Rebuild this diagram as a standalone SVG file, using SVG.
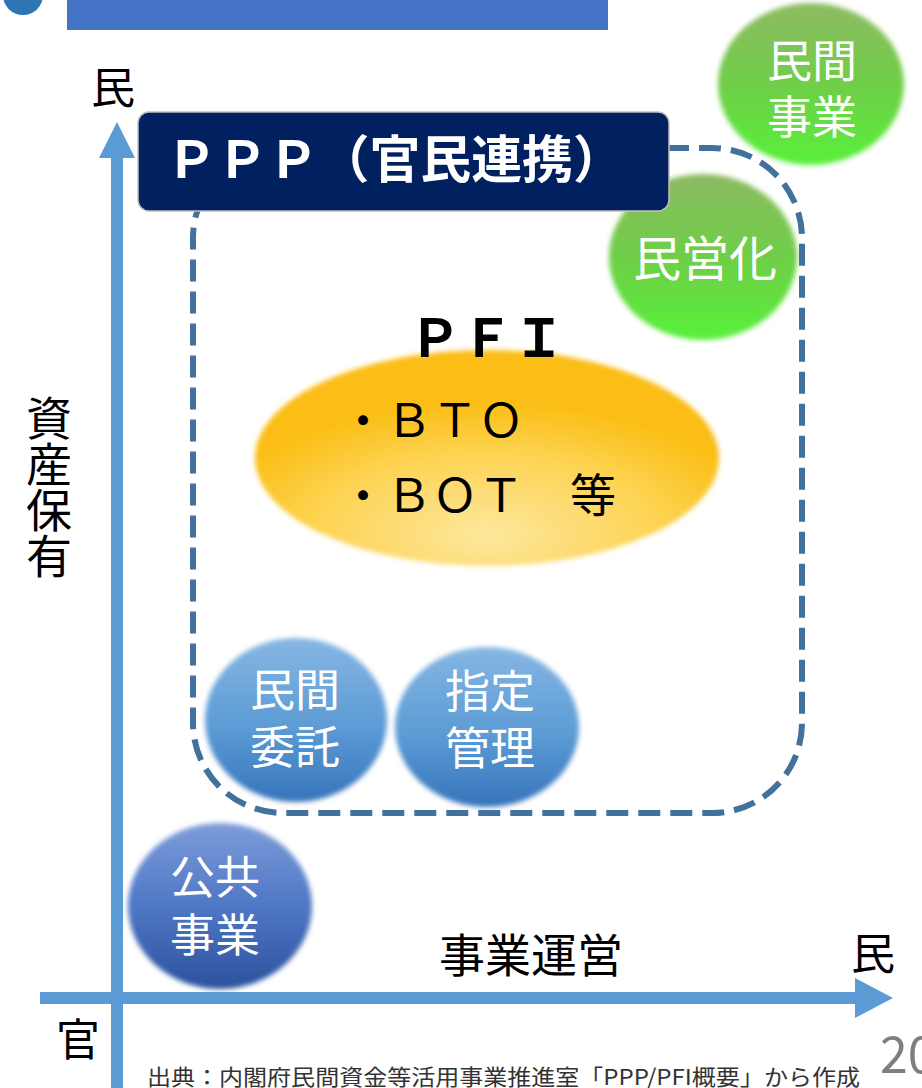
<svg xmlns="http://www.w3.org/2000/svg" width="922" height="1088" viewBox="0 0 922 1088">
<defs>
<style>
.jp{font-family:"Noto Sans CJK JP","Noto Sans",sans-serif;}
.wt{fill:#ffffff;font-size:45px;text-anchor:middle;}
.bk{fill:#000000;}
.axis{fill:#5b9bd5;}
</style>
<filter id="soft" x="-10%" y="-10%" width="120%" height="120%"><feGaussianBlur stdDeviation="2.5"/></filter>
<linearGradient id="gGreen" x1="0" y1="0" x2="0" y2="1">
<stop offset="0" stop-color="#8dbb62"/><stop offset="0.5" stop-color="#6fce48"/><stop offset="1" stop-color="#58f03a"/>
</linearGradient>
<linearGradient id="gBlue" x1="0" y1="0" x2="0" y2="1">
<stop offset="0" stop-color="#86b6e3"/><stop offset="0.55" stop-color="#5b9bd5"/><stop offset="1" stop-color="#3674bb"/>
</linearGradient>
<linearGradient id="gIndigo" x1="0" y1="0" x2="0" y2="1">
<stop offset="0" stop-color="#7d9cd9"/><stop offset="0.5" stop-color="#4f77c6"/><stop offset="1" stop-color="#2c529c"/>
</linearGradient>
<radialGradient id="gYellow" cx="0.5" cy="0.85" r="0.62">
<stop offset="0" stop-color="#fde79e"/><stop offset="0.6" stop-color="#fdd351"/><stop offset="1" stop-color="#fbbd12"/>
</radialGradient>
</defs>

<rect width="922" height="1088" fill="#ffffff"/>

<g id="header">
<circle cx="23" cy="-5" r="20" fill="#2e75b6"/>
<rect x="67" y="0" width="541" height="30" fill="#4472c4"/>
</g>

<g id="minkan-jigyo">
<ellipse cx="811" cy="84" rx="93" ry="81" fill="url(#gGreen)" filter="url(#soft)"/>
<text class="jp wt"><tspan x="812" y="78">民間</tspan><tspan x="812" y="134">事業</tspan></text>
</g>

<g id="mineika">
<ellipse cx="703" cy="257" rx="94" ry="83" fill="url(#gGreen)" filter="url(#soft)"/>
<text class="jp wt" x="705" y="276" style="font-size:48px">民営化</text>
</g>

<g id="pfi">
<ellipse cx="487" cy="458" rx="232" ry="108" fill="url(#gYellow)" filter="url(#soft)"/>
<text class="jp bk" x="487" y="357" text-anchor="middle" font-size="52" font-weight="bold">ＰＦＩ</text>
<text class="jp bk" x="340" y="437" font-size="46">・ＢＴＯ</text>
<text class="jp bk" x="340" y="512" font-size="46">・ＢＯＴ　等</text>
</g>

<g id="minkan-itaku">
<ellipse cx="296" cy="720" rx="91" ry="82" fill="url(#gBlue)" filter="url(#soft)"/>
<text class="jp wt"><tspan x="295" y="707">民間</tspan><tspan x="295" y="764">委託</tspan></text>
</g>

<g id="shitei-kanri">
<ellipse cx="487" cy="727" rx="92" ry="80" fill="url(#gBlue)" filter="url(#soft)"/>
<text class="jp wt"><tspan x="490" y="708">指定</tspan><tspan x="490" y="765">管理</tspan></text>
</g>

<g id="kokyo-jigyo">
<ellipse cx="220" cy="906" rx="92" ry="83" fill="url(#gIndigo)" filter="url(#soft)"/>
<text class="jp wt"><tspan x="215" y="894">公共</tspan><tspan x="215" y="952">事業</tspan></text>
</g>

<g id="ppp-region">
<rect x="193" y="148" width="609" height="665" rx="90" ry="90" fill="none" stroke="#41719c" stroke-width="6" stroke-dasharray="22 10"/>
</g>

<g id="ppp-label">
<rect x="138" y="112" width="531" height="99" rx="11" ry="11" fill="#002060" stroke="#bfbfbf" stroke-width="1.5"/>
<text class="jp" x="166" y="178" fill="#ffffff" font-size="51" font-weight="bold" textLength="458" lengthAdjust="spacing">ＰＰＰ（官民連携）</text>
</g>

<g id="connectors">
<rect class="axis" x="111" y="157" width="12" height="931"/>
<polygon class="axis" points="117,122 135,158 99,158"/>
<rect class="axis" x="40" y="992" width="816" height="12"/>
<polygon class="axis" points="893,998 855,978 855,1018"/>
</g>

<g id="axis-labels">
<text class="jp bk" x="113" y="104" text-anchor="middle" font-size="44">民</text>
<text class="jp bk" x="873" y="970" text-anchor="middle" font-size="44">民</text>
<text class="jp bk" x="78" y="1056" text-anchor="middle" font-size="44">官</text>
<text class="jp bk" x="531" y="972" text-anchor="middle" font-size="46">事業運営</text>
<text class="jp bk" x="49" y="395" font-size="46" writing-mode="vertical-rl">資産保有</text>
</g>

<g id="footer">
<text class="jp" x="147" y="1085" fill="#333333" font-size="22" textLength="713" lengthAdjust="spacingAndGlyphs">出典：内閣府民間資金等活用事業推進室「PPP/PFI概要」から作成</text>
<text class="jp" x="880" y="1073" fill="#7f7f7f" font-size="50">20</text>
</g>
</svg>
